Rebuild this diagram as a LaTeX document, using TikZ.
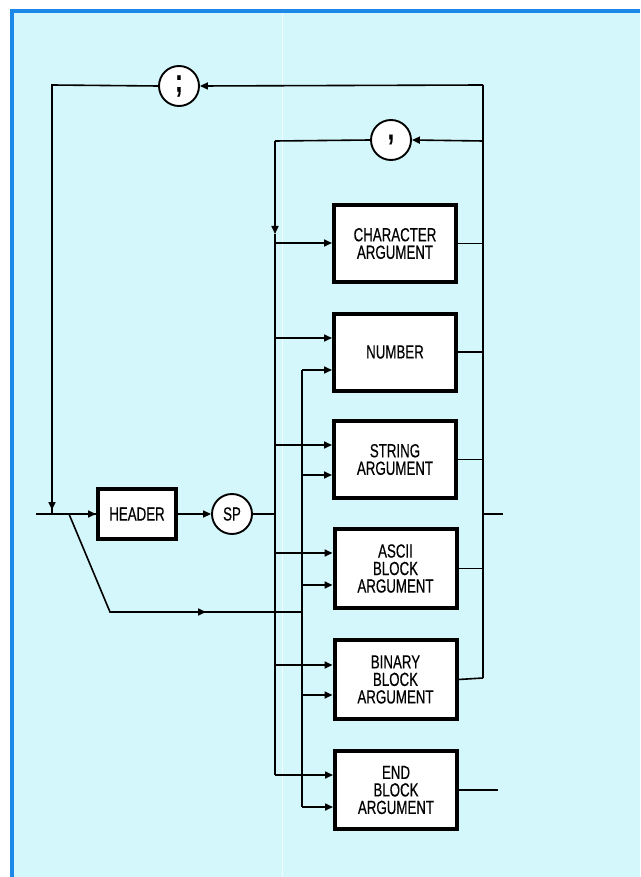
\documentclass[tikz,border=0pt]{standalone}
\usepackage{fontspec}
\setmainfont{Liberation Sans}[FakeStretch=0.70,FakeBold=0.4]
\usetikzlibrary{arrows.meta}
\definecolor{bgcyan}{RGB}{212,247,251}
\definecolor{frameblue}{RGB}{28,136,232}
\tikzset{
  conn/.style={line width=1.6pt, draw=black},
  arr/.style={conn, -{Triangle[length=8pt,width=7pt]}},
  argbox/.style={draw=black, line width=4pt, fill=white, minimum width=122pt, minimum height=77pt, align=center, inner sep=0pt,
     font=\fontsize{19}{17.5}\selectfont},
  hdrbox/.style={argbox, minimum width=78pt, minimum height=50pt},
  litcirc/.style={circle, draw=black, line width=1.9pt, fill=white, minimum size=40pt, inner sep=0pt},
}
\begin{document}
\begin{tikzpicture}[x=1pt,y=-1pt]
\useasboundingbox (0,0) rectangle (640,877);
% background and frame
\fill[white] (0,0) rectangle (640,877);
\fill[bgcyan] (10,9) rectangle (640,877);
\fill[frameblue] (10,9) rectangle (640,13);
\fill[frameblue] (10,9) rectangle (14,877);
\draw[white, opacity=0.7, line width=1pt] (282,13) -- (282,877);

% nodes
\node[hdrbox] (hdr) at (137,514) {HEADER};
\node[litcirc, font=\fontsize{19}{19}\selectfont] (sp) at (232,514) {SP};
\node[litcirc, font=\fontsize{32}{32}\bfseries\selectfont] (semi) at (179,86) {;};
\node[litcirc, font=\fontsize{32}{32}\bfseries\selectfont] (comma) at (391,140) {\raisebox{6pt}{,}};

\node[argbox] (char)  at (395,243.5) {CHARACTER\\ARGUMENT};
\node[argbox] (num)   at (395,352)   {NUMBER};
\node[argbox] (str)   at (395,459.5) {STRING\\ARGUMENT};
\node[argbox, minimum height=79pt] (ascii) at (395.5,568.5) {ASCII\\BLOCK\\ARGUMENT};
\node[argbox, minimum height=79pt] (bin)   at (395.5,679.5) {BINARY\\BLOCK\\ARGUMENT};
\node[argbox, minimum height=78pt] (endb)  at (396,790)   {END\\BLOCK\\ARGUMENT};

% coordinates
\coordinate (in) at (36,514);
\coordinate (j0) at (52,514);
\coordinate (j0t) at (52,85);
\coordinate (j0a) at (52,510);
\coordinate (jd) at (69,514);
\coordinate (dg) at (110,612);
\coordinate (dgm) at (206,612);
\coordinate (b0) at (302,612);
\coordinate (rt) at (483,85);
\coordinate (rc) at (483,141);
\coordinate (rx) at (483,514);
\coordinate (out) at (503,514);
\coordinate (rb) at (483,678);
\coordinate (endout) at (498,790);
% left bus L1 (x=275)
\coordinate (l1t) at (275,141);
\coordinate (l1a) at (275,234);
\coordinate (a1) at (275,243);
\coordinate (a2) at (275,338);
\coordinate (a3) at (275,445);
\coordinate (a4) at (275,553);
\coordinate (a5) at (275,665);
\coordinate (a6) at (275,775);
\coordinate (l1s) at (275,514);
% second bus L2 (x=302)
\coordinate (b1) at (302,370);
\coordinate (b2) at (302,475);
\coordinate (b3) at (302,585);
\coordinate (b4) at (302,695);
\coordinate (b5) at (302,807);

% main line
\draw[conn] (in) -- (hdr.west);
\draw[arr] (jd) -- (hdr.west);
\draw[arr] (hdr.east) -- (sp.west);
\draw[conn] (sp.east) -- (l1s);

% semicolon loop
\draw[conn] (rb) -- (rt);
\draw[arr] (rt) -- (semi.east);
\draw[conn] (semi.west) -- (j0t) -- (j0a);
\draw[arr] (j0t) -- (j0a);
\draw[conn] (j0a) -- (j0);

% comma loop
\draw[arr] (rc) -- (comma.east);
\draw[conn] (comma.west) -- (l1t);
\draw[arr] (l1t) -- (l1a);
\draw[conn] (l1a) -- (a6);

% bypass diagonal
\draw[conn] (jd) -- (dg) -- (b0);
\draw[arr] (dg) -- (dgm);
\draw[conn] (b1) -- (b5);

% arrows into boxes from L1
\draw[arr] (a1) -- (char.west |- a1);
\draw[arr] (a2) -- (num.west |- a2);
\draw[arr] (a3) -- (str.west |- a3);
\draw[arr] (a4) -- (ascii.west |- a4);
\draw[arr] (a5) -- (bin.west |- a5);
\draw[arr] (a6) -- (endb.west |- a6);
% arrows into boxes from L2
\draw[arr] (b1) -- (num.west |- b1);
\draw[arr] (b2) -- (str.west |- b2);
\draw[arr] (b3) -- (ascii.west |- b3);
\draw[arr] (b4) -- (bin.west |- b4);
\draw[arr] (b5) -- (endb.west |- b5);

% outputs
\draw[conn] (char.east) -- (char.east -| rt);
\draw[conn] (num.east) -- (num.east -| rt);
\draw[conn] (str.east) -- (str.east -| rt);
\draw[conn] (ascii.east) -- (ascii.east -| rt);
\draw[conn] (bin.east) -- (rb);
\draw[conn] (rx) -- (out);
\draw[conn] (endb.east) -- (endout);
\end{tikzpicture}
\end{document}
